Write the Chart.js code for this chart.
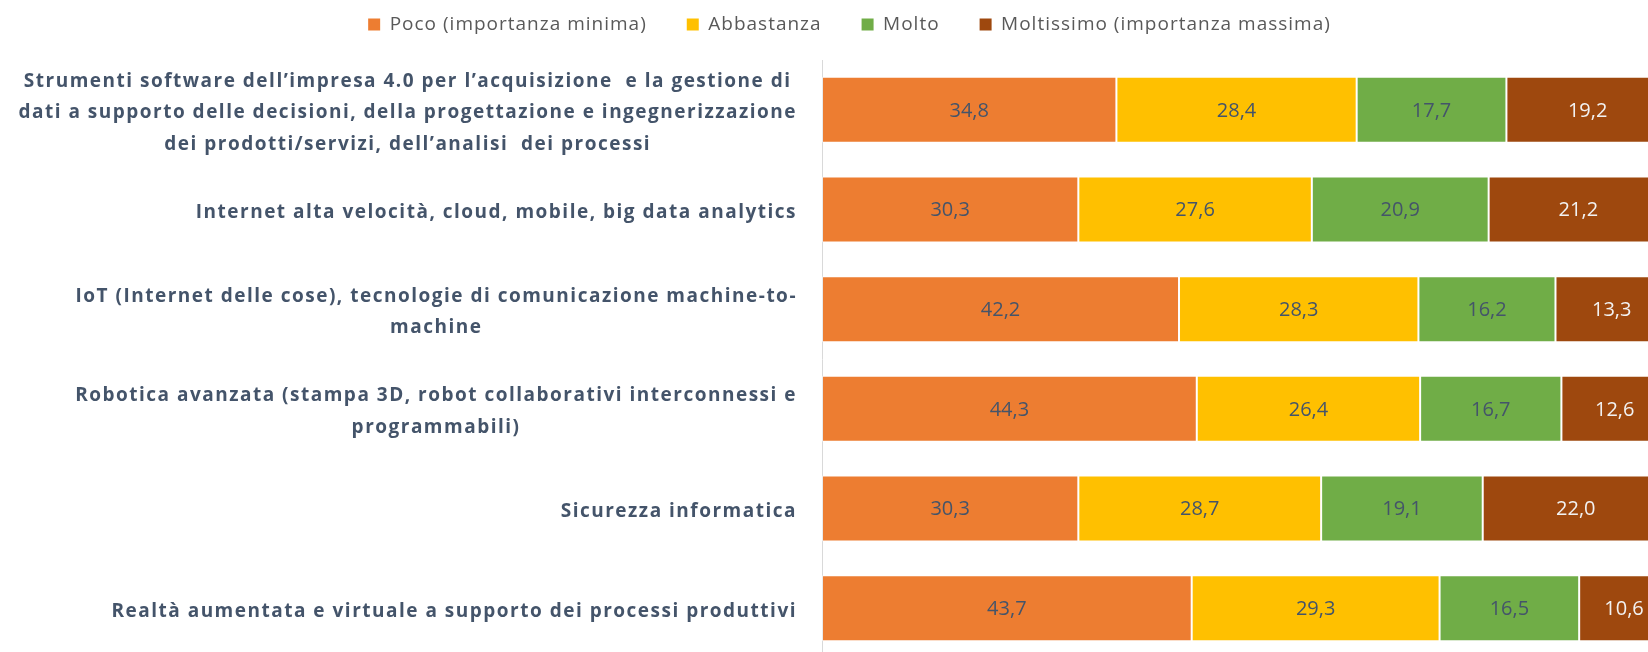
<!DOCTYPE html>
<html>
<head>
<meta charset="utf-8">
<script src="https://cdn.jsdelivr.net/npm/chart.js@4.4.0/dist/chart.umd.min.js"></script>
<style>
  html, body { margin: 0; padding: 0; background: #fff; overflow: hidden; }
  #wrap { width: 1648px; height: 652px; overflow: hidden; }
</style>
</head>
<body>
<div id="wrap"><canvas id="chart" width="1670" height="660"></canvas></div>
<script>
const categories = [
    ['Strumenti software dell\u2019impresa 4.0 per l\u2019acquisizione  e la gestione di',
     'dati a supporto delle decisioni, della progettazione e ingegnerizzazione',
     'dei prodotti/servizi, dell\u2019analisi  dei processi'],
    ['Internet alta velocità, cloud, mobile, big data analytics'],
    ['IoT (Internet delle cose), tecnologie di comunicazione machine-to-', 'machine'],
    ['Robotica avanzata (stampa 3D, robot collaborativi interconnessi e', 'programmabili)'],
    ['Sicurezza informatica'],
    ['Realtà aumentata e virtuale a supporto dei processi produttivi']
];
const seriesNames = ['Poco (importanza minima)', 'Abbastanza', 'Molto', 'Moltissimo (importanza massima)'];
const poco = [34.8, 30.3, 42.2, 44.3, 30.3, 43.7];
const abbastanza = [28.4, 27.6, 28.3, 26.4, 28.7, 29.3];
const molto = [17.7, 20.9, 16.2, 16.7, 19.1, 16.5];
const moltissimo = [19.2, 21.2, 13.3, 12.6, 22.0, 10.6];

const colors = ['#ED7D31', '#FFC000', '#70AD47', '#9E480E'];
const labelColors = ['#44546A', '#44546A', '#44546A', '#F2F2F2'];
const FONT = "'Open Sans', 'Liberation Sans', sans-serif";

// legend height fixed so the plot starts where it does in the picture,
// and a bit of letter spacing for the legend text
const legendTweaks = {
    id: 'legendTweaks',
    afterInit(chart) {
        const fit = chart.legend.fit;
        chart.legend.fit = function () {
            fit.call(this);
            this.height = 85;
        };
    },
    beforeUpdate(chart) {
        chart.ctx.letterSpacing = '1px';
    },
    beforeDraw(chart) {
        chart.ctx.letterSpacing = '1px';
    }
};

// category labels: block right-aligned to the axis, lines centred inside the block
const categoryLabels = {
    id: 'categoryLabels',
    afterDraw(chart) {
        const ctx = chart.ctx;
        const yScale = chart.scales.y;
        const right = 797;
        const lineHeight = 31.5;
        ctx.save();
        ctx.font = 'bold 19px ' + FONT;
        ctx.letterSpacing = '1.5px';
        ctx.fillStyle = '#44546A';
        ctx.textAlign = 'center';
        ctx.textBaseline = 'middle';
        categories.forEach((lines, i) => {
            const widest = Math.max(...lines.map(l => ctx.measureText(l).width));
            const cx = right - widest / 2;
            const cy = yScale.getPixelForValue(i) + 3;
            lines.forEach((line, j) => {
                ctx.fillText(line, cx, cy + (j - (lines.length - 1) / 2) * lineHeight);
            });
        });
        ctx.restore();
    }
};

// value labels in the middle of each segment
const valueLabels = {
    id: 'valueLabels',
    afterDatasetsDraw(chart) {
        const ctx = chart.ctx;
        ctx.save();
        ctx.font = '20px ' + FONT;
        ctx.letterSpacing = '0px';
        ctx.textAlign = 'center';
        ctx.textBaseline = 'middle';
        chart.data.datasets.forEach((ds, di) => {
            const meta = chart.getDatasetMeta(di);
            ctx.fillStyle = labelColors[di];
            meta.data.forEach((bar, i) => {
                const x = (bar.x + bar.base) / 2;
                ctx.fillText(ds.data[i].toFixed(1).replace('.', ','), x, bar.y + 1);
            });
        });
        ctx.restore();
    }
};

const seriesData = [poco, abbastanza, molto, moltissimo];

new Chart(document.getElementById('chart'), {
    type: 'bar',
    data: {
        labels: categories.map(c => c.join(' ')),
        datasets: seriesNames.map((name, i) => ({
            label: name,
            data: seriesData[i],
            backgroundColor: colors[i],
            borderColor: 'rgba(255,255,255,0.45)',
            borderWidth: 1,
            borderSkipped: false,
            barPercentage: 0.663,
            categoryPercentage: 1
        }))
    },
    options: {
        indexAxis: 'y',
        responsive: false,
        animation: false,
        devicePixelRatio: 1,
        layout: { padding: { top: -25, left: 31, right: 2, bottom: 2 } },
        scales: {
            x: { stacked: true, min: 0, max: 100, display: false },
            y: {
                stacked: true,
                grid: { display: false },
                border: { display: true, color: '#D9D9D9', width: 1 },
                ticks: { display: false },
                afterFit(scale) { scale.width = 791; }
            }
        },
        plugins: {
            legend: {
                position: 'top',
                labels: {
                    boxWidth: 12,
                    boxHeight: 12,
                    padding: 40,
                    color: '#595959',
                    font: { family: FONT, size: 19 },
                    generateLabels(chart) {
                        const items = Chart.defaults.plugins.legend.labels.generateLabels(chart);
                        items.forEach(it => { it.lineWidth = 0; });
                        return items;
                    }
                }
            },
            tooltip: { enabled: false }
        }
    },
    plugins: [legendTweaks, categoryLabels, valueLabels]
});
</script>
</body>
</html>
